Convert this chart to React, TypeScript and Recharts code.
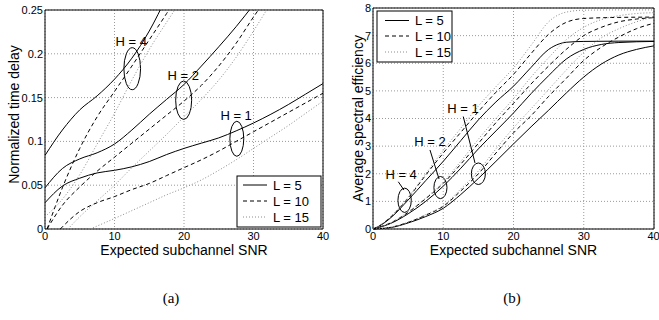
import React from 'react';
import {
  LineChart,
  Line,
  XAxis,
  YAxis,
  CartesianGrid,
  ReferenceArea,
  ReferenceDot,
  ReferenceLine,
  Customized,
} from 'recharts';

type Pt = [number, number];

// ---------- (a) Normalized time delay vs expected subchannel SNR ----------
const delayH4L5: Pt[] = [[0, 0.084], [2.5, 0.113], [5, 0.136], [7.5, 0.152], [10, 0.171], [12.5, 0.195], [15, 0.226], [17.5, 0.265]];
const delayH4L10: Pt[] = [[0.3, 0], [2.5, 0.047], [5, 0.092], [7.5, 0.128], [10, 0.157], [12.5, 0.186], [15, 0.216], [17.5, 0.246], [20, 0.278]];
const delayH4L15: Pt[] = [[0, 0.014], [2.5, 0.034], [5, 0.062], [7.5, 0.097], [10, 0.132], [12.5, 0.17], [15, 0.205], [17.5, 0.236], [20, 0.266]];
const delayH2L5: Pt[] = [[0, 0.047], [2.5, 0.069], [5, 0.08], [7.5, 0.087], [10, 0.097], [12.5, 0.113], [15, 0.131], [17.5, 0.148], [20, 0.165], [22.5, 0.186], [25, 0.208], [27.5, 0.231], [30, 0.256]];
const delayH2L10: Pt[] = [[0.3, 0], [2.5, 0.027], [5, 0.048], [7.5, 0.066], [10, 0.082], [12.5, 0.098], [15, 0.114], [17.5, 0.13], [20, 0.146], [22.5, 0.164], [25, 0.186], [27.5, 0.212], [30, 0.242], [32.5, 0.27]];
const delayH2L15: Pt[] = [[3.3, 0], [5, 0.014], [7.5, 0.032], [10, 0.05], [12.5, 0.07], [15, 0.089], [17.5, 0.108], [20, 0.128], [22.5, 0.148], [25, 0.17], [27.5, 0.196], [30, 0.226], [32.5, 0.258]];
const delayH1L5: Pt[] = [[0, 0.03], [2.5, 0.049], [5, 0.058], [7.5, 0.064], [10, 0.067], [12.5, 0.071], [15, 0.077], [17.5, 0.085], [20, 0.092], [22.5, 0.098], [25, 0.104], [27.5, 0.112], [30, 0.121], [32.5, 0.131], [35, 0.142], [37.5, 0.154], [40, 0.166]];
const delayH1L10: Pt[] = [[2.2, 0], [5, 0.02], [7.5, 0.03], [10, 0.037], [12.5, 0.045], [15, 0.052], [17.5, 0.061], [20, 0.07], [22.5, 0.079], [25, 0.089], [27.5, 0.1], [30, 0.111], [32.5, 0.122], [35, 0.133], [37.5, 0.144], [40, 0.155]];
const delayH1L15: Pt[] = [[6.5, 0], [10, 0.012], [12.5, 0.021], [15, 0.03], [17.5, 0.039], [20, 0.047], [22.5, 0.056], [25, 0.067], [27.5, 0.079], [30, 0.092], [32.5, 0.105], [35, 0.118], [37.5, 0.132], [40, 0.146]];

const delayXTicks = [0, 10, 20, 30, 40];
const delayYTicks = [0, 0.05, 0.1, 0.15, 0.2, 0.25];
const delayYLabels = ['0', '0.05', '0.1', '0.15', '0.2', '0.25'];

// ellipse annotations: [cx, cy, rx, ry] in data units, label text + label position
const delayEllipses: [number, number, number, number][] = [[12.55, 0.183, 1.2, 0.024], [19.95, 0.147, 1.15, 0.022], [27.6, 0.103, 1.0, 0.02]];
const delayHLabels = ['H = 4', 'H = 2', 'H = 1'];
const delayHLabelPos: Pt[] = [[12.4, 0.2145], [19.9, 0.1747], [27.5, 0.1296]];

// ---------- (b) Average spectral efficiency vs expected subchannel SNR ----------
const effH4L5: Pt[] = [[0, 0], [1, 0.12], [2.5, 0.4], [5, 1.05], [7.5, 1.75], [10, 2.45], [12.5, 3.2], [15, 3.95], [17.5, 4.6], [20, 5.17], [22.5, 5.85], [25, 6.5], [26.5, 6.7], [27.5, 6.76], [30, 6.79], [35, 6.8], [40, 6.8]];
const effH4L10: Pt[] = [[0, 0], [1, 0.13], [2.5, 0.43], [5, 1.12], [7.5, 1.95], [10, 2.75], [12.5, 3.5], [15, 4.25], [17.5, 4.95], [20, 5.6], [22.5, 6.35], [25, 7.05], [27.5, 7.48], [30, 7.62], [35, 7.66], [40, 7.67]];
const effH4L15: Pt[] = [[0, 0], [1, 0.13], [2.5, 0.45], [5, 1.15], [7.5, 2.0], [10, 2.85], [12.5, 3.65], [15, 4.45], [17.5, 5.15], [20, 5.83], [22.5, 6.65], [25, 7.5], [27.5, 7.85], [30, 7.92], [35, 7.93], [40, 7.93]];
const effH2L5: Pt[] = [[0, 0], [2.5, 0.2], [5, 0.55], [7.5, 1.0], [10, 1.55], [12.5, 2.2], [15, 2.9], [17.5, 3.55], [20, 4.2], [22.5, 4.9], [25, 5.55], [27.5, 6.15], [30, 6.5], [32.5, 6.68], [35, 6.75], [40, 6.79]];
const effH2L10: Pt[] = [[0, 0], [2.5, 0.22], [5, 0.6], [7.5, 1.1], [10, 1.65], [12.5, 2.35], [15, 3.1], [17.5, 3.85], [20, 4.55], [22.5, 5.25], [25, 5.9], [27.5, 6.5], [30, 7.0], [32.5, 7.3], [35, 7.5], [37.5, 7.6], [40, 7.65]];
const effH2L15: Pt[] = [[0, 0], [2.5, 0.22], [5, 0.62], [7.5, 1.12], [10, 1.7], [12.5, 2.45], [15, 3.25], [17.5, 4.0], [20, 4.72], [22.5, 5.5], [25, 6.2], [27.5, 6.85], [30, 7.3], [32.5, 7.58], [35, 7.72], [37.5, 7.8], [40, 7.83]];
const effH1L5: Pt[] = [[0, 0], [2.5, 0.05], [5, 0.22], [7.5, 0.45], [10, 0.75], [12.5, 1.25], [15, 1.83], [17.5, 2.45], [20, 3.08], [22.5, 3.7], [25, 4.3], [27.5, 4.92], [30, 5.5], [32.5, 5.97], [35, 6.3], [37.5, 6.5], [40, 6.63]];
const effH1L10: Pt[] = [[0, 0], [2.5, 0.06], [5, 0.24], [7.5, 0.5], [10, 0.82], [12.5, 1.38], [15, 2.0], [17.5, 2.75], [20, 3.48], [22.5, 4.1], [25, 4.8], [27.5, 5.45], [30, 6.1], [32.5, 6.58], [35, 6.95], [37.5, 7.25], [40, 7.45]];
const effH1L15: Pt[] = [[0, 0], [2.5, 0.06], [5, 0.25], [7.5, 0.52], [10, 0.85], [12.5, 1.45], [15, 2.1], [17.5, 2.9], [20, 3.66], [22.5, 4.35], [25, 5.05], [27.5, 5.75], [30, 6.4], [32.5, 6.92], [35, 7.25], [37.5, 7.5], [40, 7.68]];

const effXTicks = [0, 10, 20, 30, 40];
const effYTicks = [0, 1, 2, 3, 4, 5, 6, 7, 8];

const effEllipses: [number, number, number, number][] = [[4.5, 1.04, 0.95, 0.44], [9.6, 1.5, 0.93, 0.4], [15, 2.0, 1.0, 0.39]];
const effHLabels = ['H = 4', 'H = 2', 'H = 1'];
const effHLabelPos: Pt[] = [[4.0, 1.96], [8.1, 3.15], [12.8, 4.35]];
const effLeaders: [Pt, Pt][] = [[[3.6, 1.71], [4.41, 1.41]], [[8.11, 2.86], [9.4, 1.81]], [[12.85, 4.07], [14.52, 2.39]]];

const legendLabels = ['L = 5', 'L = 10', 'L = 15'];

// ---------- styling ----------
const FONT = '"Liberation Sans", Arial, Helvetica, sans-serif';
const lineStyles = [
  { stroke: '#000', dash: undefined as string | undefined },
  { stroke: '#000', dash: '4 3' },
  { stroke: '#8c8c8c', dash: '1 2' },
];

const toObj = (pts: Pt[]) => pts.map(([x, y]) => ({ x, y }));

const EllipseShape = (p: any) => (
  <ellipse
    cx={p.x + p.width / 2}
    cy={p.y + p.height / 2}
    rx={Math.abs(p.width) / 2}
    ry={Math.abs(p.height) / 2}
    fill="none"
    stroke="#000"
    strokeWidth={1}
  />
);

const makeTextShape = (label: string) => (p: any) => (
  <text x={p.cx} y={p.cy} textAnchor="middle" dominantBaseline="central" fontSize={13} fontFamily={FONT} fill="#000">
    {label}
  </text>
);

const XTitle = (props: any) => {
  const vb = props.viewBox || {};
  return (
    <text x={vb.x + vb.width / 2} y={vb.y + 26} textAnchor="middle" fontSize={14} fontFamily={FONT} fill="#000">
      {props.text}
    </text>
  );
};

const YTitle = (props: any) => {
  const vb = props.viewBox || {};
  const x = vb.x + props.bx;
  const y = vb.y + vb.height / 2 + (props.dy || 0);
  return (
    <text x={x} y={y} transform={`rotate(-90, ${x}, ${y})`} textAnchor="middle" fontSize={14} fontFamily={FONT} fill="#000">
      {props.text}
    </text>
  );
};

const LegendBox = ({ x, y, w, h, rowY, lineX, textX }: any) => (
  <g>
    <rect x={x} y={y} width={w} height={h} fill="#fff" stroke="#000" strokeWidth={1} />
    {legendLabels.map((lab, i) => (
      <g key={lab}>
        <line
          x1={lineX}
          x2={lineX + 24}
          y1={rowY[i]}
          y2={rowY[i]}
          stroke={lineStyles[i].stroke}
          strokeDasharray={lineStyles[i].dash}
          strokeWidth={1}
        />
        <text x={textX} y={rowY[i]} dominantBaseline="central" fontSize={13} fontFamily={FONT} fill="#000">
          {lab}
        </text>
      </g>
    ))}
  </g>
);

const tickStyle = { fontSize: 11, fontFamily: FONT, fill: '#000' };

function renderSeries(series: Pt[][], prefix: string) {
  return series.map((pts, i) => {
    const st = lineStyles[i % 3];
    return (
      <Line
        key={prefix + i}
        data={toObj(pts)}
        dataKey="y"
        type="monotone"
        stroke={st.stroke}
        strokeDasharray={st.dash}
        strokeWidth={1}
        dot={false}
        activeDot={false}
        isAnimationActive={false}
      />
    );
  });
}

export default function App() {
  const delaySeries = [delayH4L5, delayH4L10, delayH4L15, delayH2L5, delayH2L10, delayH2L15, delayH1L5, delayH1L10, delayH1L15];
  const effSeries = [effH4L5, effH4L10, effH4L15, effH2L5, effH2L10, effH2L15, effH1L5, effH1L10, effH1L15];

  return (
    <div style={{ position: 'absolute', left: 0, top: 0, width: 659, height: 320, background: '#fff', overflow: 'hidden' }}>
      <div style={{ position: 'absolute', left: 0, top: 0 }}>
        <LineChart width={330} height={270} margin={{ top: 10, right: 7, bottom: 5, left: 0 }}>
          <CartesianGrid stroke="#9a9a9a" strokeDasharray="1 2" />
          <XAxis
            dataKey="x"
            type="number"
            domain={[0, 40]}
            ticks={delayXTicks}
            tick={tickStyle}
            tickLine={false}
            axisLine={false}
            tickSize={0}
            tickMargin={3}
            height={36}
            allowDataOverflow
            label={<XTitle text="Expected subchannel SNR" />}
          />
          <YAxis
            type="number"
            domain={[0, 0.25]}
            ticks={delayYTicks}
            tickFormatter={(v: number) => delayYLabels[delayYTicks.indexOf(v)] ?? String(v)}
            tick={tickStyle}
            tickLine={false}
            axisLine={false}
            tickSize={0}
            tickMargin={2}
            width={45}
            allowDataOverflow
            label={<YTitle text="Normalized time delay" bx={19} dy={-5} />}
          />
          <ReferenceArea x1={0} x2={40} y1={0} y2={0.25} fill="none" fillOpacity={0} stroke="#000" strokeWidth={1} ifOverflow="visible" />
          {renderSeries(delaySeries, 'd')}
          {delayEllipses.map(([cx, cy, rx, ry], i) => (
            <ReferenceArea key={'de' + i} x1={cx - rx} x2={cx + rx} y1={cy - ry} y2={cy + ry} shape={EllipseShape} ifOverflow="visible" />
          ))}
          {delayHLabelPos.map(([x, y], i) => (
            <ReferenceDot key={'dl' + i} x={x} y={y} r={0} shape={makeTextShape(delayHLabels[i])} ifOverflow="visible" />
          ))}
          <Customized
            component={() => (
              <LegendBox x={237} y={176} w={84} h={51} rowY={[185, 201, 217]} lineX={243} textX={273} />
            )}
          />
        </LineChart>
      </div>

      <div style={{ position: 'absolute', left: 330, top: 0 }}>
        <LineChart width={329} height={270} margin={{ top: 8, right: 5, bottom: 5, left: 0 }}>
          <CartesianGrid stroke="#9a9a9a" strokeDasharray="1 2" />
          <XAxis
            dataKey="x"
            type="number"
            domain={[0, 40]}
            ticks={effXTicks}
            tick={tickStyle}
            tickLine={false}
            axisLine={false}
            tickSize={0}
            tickMargin={3}
            height={36}
            label={<XTitle text="Expected subchannel SNR" />}
          />
          <YAxis
            type="number"
            domain={[0, 8]}
            ticks={effYTicks}
            tick={tickStyle}
            tickLine={false}
            axisLine={false}
            tickSize={0}
            tickMargin={2}
            width={43}
            label={<YTitle text="Average spectral efficiency" bx={33} dy={0} />}
          />
          <ReferenceArea x1={0} x2={40} y1={0} y2={8} fill="none" fillOpacity={0} stroke="#000" strokeWidth={1} ifOverflow="visible" />
          {renderSeries(effSeries, 'e')}
          {effEllipses.map(([cx, cy, rx, ry], i) => (
            <ReferenceArea key={'ee' + i} x1={cx - rx} x2={cx + rx} y1={cy - ry} y2={cy + ry} shape={EllipseShape} ifOverflow="visible" />
          ))}
          {effLeaders.map(([a, b], i) => (
            <ReferenceLine key={'el' + i} segment={[{ x: a[0], y: a[1] }, { x: b[0], y: b[1] }]} stroke="#000" strokeWidth={1} ifOverflow="visible" />
          ))}
          {effHLabelPos.map(([x, y], i) => (
            <ReferenceDot key={'et' + i} x={x} y={y} r={0} shape={makeTextShape(effHLabels[i])} ifOverflow="visible" />
          ))}
          <Customized
            component={() => (
              <LegendBox x={47} y={11} w={75} h={51} rowY={[20.5, 36, 52]} lineX={55} textX={85} />
            )}
          />
        </LineChart>
      </div>

      <div style={{ position: 'absolute', left: 151, top: 290, width: 40, textAlign: 'center', fontFamily: '"Liberation Serif", "DejaVu Serif", serif', fontSize: 15 }}>
        (a)
      </div>
      <div style={{ position: 'absolute', left: 492, top: 290, width: 40, textAlign: 'center', fontFamily: '"Liberation Serif", "DejaVu Serif", serif', fontSize: 15 }}>
        (b)
      </div>
    </div>
  );
}
